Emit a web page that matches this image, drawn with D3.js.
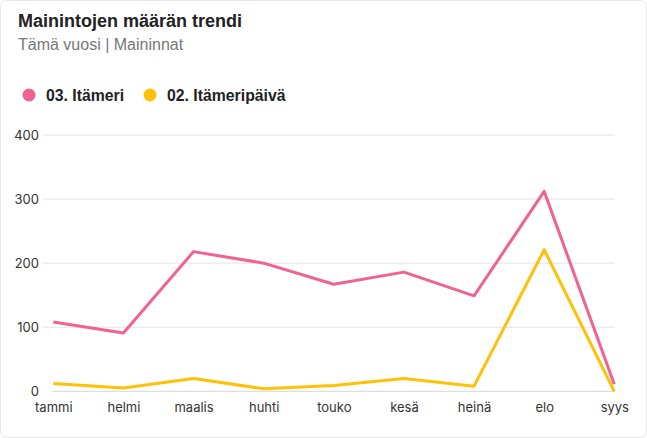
<!DOCTYPE html>
<html><head><meta charset="utf-8">
<script src="https://cdn.jsdelivr.net/npm/d3@7"></script>
<style>
html,body{margin:0;padding:0;background:#fff;}
</style></head>
<body>
<svg id="c" width="647" height="438"></svg>
<script>
const months = ["tammi","helmi","maalis","huhti","touko","kesä","heinä","elo","syys"];
const seriesNames = ["03. Itämeri","02. Itämeripäivä"];
const seriesColors = ["#F06292","#FFC107"];
const itameri = [108, 91, 218, 200, 167, 186, 149, 312, 11];
const itameripaiva = [12, 5, 20, 4, 9, 20, 8, 221, 0];
const yTicks = [0,100,200,300,400];

const svg = d3.select("#c");
svg.append("rect").attr("x",0.5).attr("y",0.5).attr("width",646).attr("height",437)
  .attr("rx",6).attr("fill","#fff").attr("stroke","#e6e6e6");

svg.append("text").attr("x",18).attr("y",27).text("Mainintojen määrän trendi")
  .attr("font-family","'Liberation Sans', Arial, sans-serif").attr("font-weight","bold")
  .attr("font-size",18).attr("fill","#222");
svg.append("text").attr("x",18).attr("y",50).text("Tämä vuosi | Maininnat")
  .attr("font-family","'Liberation Sans', Arial, sans-serif")
  .attr("font-size",16).attr("fill","#777");

const leg = svg.append("g");
const legX = [29, 150];
seriesNames.forEach((n,i)=>{
  leg.append("circle").attr("cx",legX[i]).attr("cy",95).attr("r",6.5).attr("fill",seriesColors[i]);
  leg.append("text").attr("x",legX[i]+17).attr("y",100.5).text(n)
    .attr("font-family","'Liberation Sans', Arial, sans-serif").attr("font-weight","bold")
    .attr("font-size",15.8).attr("fill","#222");
});

const x = d3.scalePoint().domain(months).range([53.3, 614.3]);
const y = d3.scaleLinear().domain([0,400]).range([391.3, 135]);

const grid = svg.append("g");
grid.selectAll("line").data(yTicks).join("line")
  .attr("x1", d=> d===0 ? 52 : 43).attr("x2",615)
  .attr("y1", d=>y(d)).attr("y2", d=>y(d))
  .attr("stroke", d=> d===0 ? "#d6d6d6" : "#e3e3e3").attr("stroke-width",1);

const yAxis = d3.axisLeft(y).tickValues(yTicks).tickSize(0).tickPadding(0);
const ya = svg.append("g").attr("transform","translate(39,0)").call(yAxis);
ya.select(".domain").remove();
ya.selectAll("text").attr("font-family","Inter, Roboto, sans-serif").attr("font-size",13).attr("fill","#333");

const xAxis = d3.axisBottom(x).tickSize(0).tickPadding(0);
const xa = svg.append("g").attr("transform","translate(0,403)").call(xAxis);
xa.select(".domain").remove();
xa.selectAll("text").attr("font-family","Inter, Roboto, sans-serif").attr("font-size",13).attr("fill","#333");

const line = d3.line().x((d,i)=>x(months[i])).y(d=>y(d));
[itameri, itameripaiva].forEach((s,i)=>{
  svg.append("path").datum(s).attr("d",line).attr("fill","none")
    .attr("stroke",seriesColors[i]).attr("stroke-width",3)
    .attr("stroke-linejoin","round");
});
</script>
</body></html>
